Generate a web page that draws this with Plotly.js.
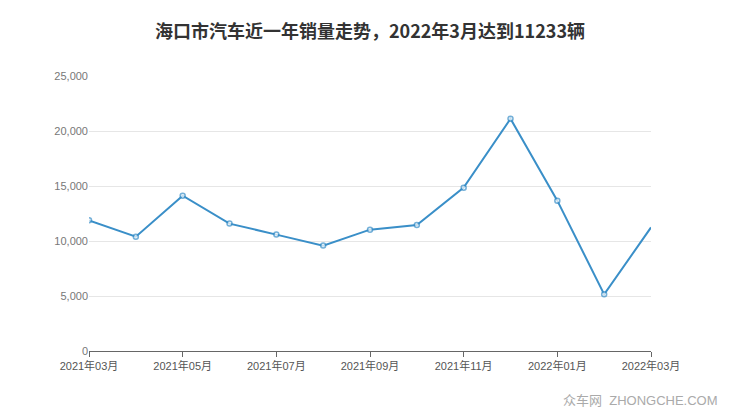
<!DOCTYPE html>
<html>
<head>
<meta charset="utf-8">
<script src="https://cdn.plot.ly/plotly-3.0.1.min.js"></script>
<style>html,body{margin:0;padding:0;background:#fff;}#chart{width:740px;height:417px;}</style>
</head>
<body>
<div id="chart"></div>
<script>
const months = ["2021年03月","2021年04月","2021年05月","2021年06月","2021年07月","2021年08月","2021年09月","2021年10月","2021年11月","2021年12月","2022年01月","2022年02月","2022年03月"];
const sales = [11880, 10390, 14120, 11580, 10580, 9580, 11030, 11450, 14850, 21120, 13670, 5150, 11233];
const tickLabels = ["2021年03月","2021年05月","2021年07月","2021年09月","2021年11月","2022年01月","2022年03月"];
const yTicks = [0, 5000, 10000, 15000, 20000, 25000];
const yTickText = ["0","5,000","10,000","15,000","20,000","25,000"];

const font = "'Liberation Sans', 'Noto Sans CJK SC', sans-serif";
const markerSizes = months.map((m, i) => i === months.length - 1 ? 0 : 5);
Plotly.newPlot('chart', [{
  x: months,
  y: sales,
  type: 'scatter',
  mode: 'lines+markers',
  line: {color: '#3a8fc8', width: 2},
  marker: {size: markerSizes, color: '#ffffff', line: {color: '#3a8fc8', width: 1.5}},
  hoverinfo: 'x+y'
}], {
  width: 740, height: 417,
  margin: {l: 89, r: 89, t: 76, b: 66},
  paper_bgcolor: '#fff', plot_bgcolor: '#fff',
  showlegend: false,
  title: {text: '<b>海口市汽车近一年销量走势，2022年3月达到11233辆</b>', x: 0.5, xanchor: 'center', y: 0.925, yanchor: 'middle',
    font: {family: "'Noto Sans CJK SC', sans-serif", size: 18, color: '#333'}},
  xaxis: {
    type: 'category', range: [0, 12],
    tickmode: 'array', tickvals: tickLabels, ticktext: tickLabels,
    ticks: 'outside', ticklen: 5, tickcolor: '#666', tickwidth: 1,
    showline: true, linecolor: '#666', linewidth: 1,
    showgrid: false, zeroline: false,
    tickfont: {family: font, size: 11, color: '#555'}
  },
  yaxis: {
    range: [0, 25000], tickmode: 'array', tickvals: yTicks, ticktext: yTickText,
    showgrid: true, gridcolor: '#e6e6e6', gridwidth: 1, zeroline: false,
    ticks: '', ticklen: 0, tickfont: {family: font, size: 11, color: '#777'}
  },
  annotations: [{
    text: '众车网  ZHONGCHE.COM', xref: 'paper', yref: 'paper', x: 1.122, y: -0.18,
    xanchor: 'right', yanchor: 'middle', showarrow: false,
    font: {family: font, size: 13, color: '#aaa'}
  }]
}, {displayModeBar: false, staticPlot: true});
</script>
</body>
</html>
